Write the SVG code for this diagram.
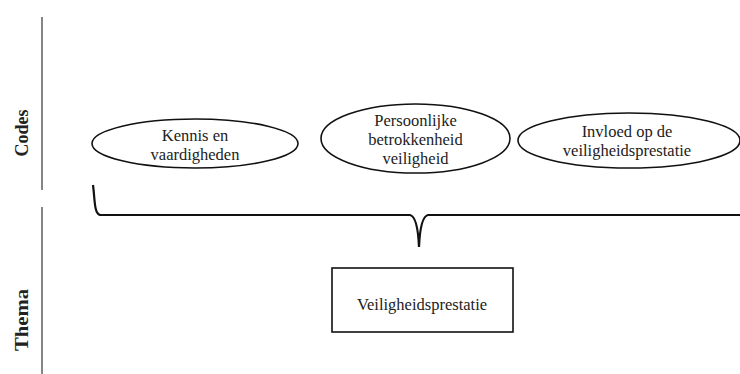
<svg xmlns="http://www.w3.org/2000/svg" width="740" height="374" viewBox="0 0 740 374">
<style>
.t{font-family:"Liberation Serif","DejaVu Serif",serif;font-size:16.5px;fill:#222;text-anchor:middle}
.lab{font-family:"Liberation Serif","DejaVu Serif",serif;font-size:18px;font-weight:bold;fill:#222;text-anchor:middle}
.sh{fill:#fff;stroke:#111;stroke-width:1.6}
.ax{stroke:#444;stroke-width:1.3;fill:none}
</style>
<rect width="740" height="374" fill="#fff"/>
<g id="axis">
<line class="ax" x1="42" y1="17" x2="42" y2="190"/>
<line class="ax" x1="42" y1="207" x2="42" y2="374"/>
<text class="lab" transform="translate(28,133) rotate(-90)">Codes</text>
<text class="lab" transform="translate(28,320) rotate(-90)" textLength="62" lengthAdjust="spacingAndGlyphs">Thema</text>
</g>
<g id="node-kennis">
<ellipse class="sh" cx="195" cy="143.5" rx="103" ry="24.5"/>
<text class="t" x="195" y="141">Kennis en</text>
<text class="t" x="195" y="160">vaardigheden</text>
</g>
<g id="node-persoonlijke">
<ellipse class="sh" cx="415.5" cy="138.5" rx="94.5" ry="34.5"/>
<text class="t" x="415.5" y="126">Persoonlijke</text>
<text class="t" x="415.5" y="145">betrokkenheid</text>
<text class="t" x="415.5" y="164">veiligheid</text>
</g>
<g id="node-invloed">
<ellipse class="sh" cx="629" cy="140.5" rx="111" ry="27.5"/>
<text class="t" x="627" y="137">Invloed op de</text>
<text class="t" x="627" y="156">veiligheidsprestatie</text>
</g>
<g id="connectors">
<path d="M93,185 C95,200 94,213 100,215 L410,215 C415,216 418,225 419,247 C420,225 423,216 428,215 L740,215" fill="none" stroke="#111" stroke-width="2.2"/>
</g>
<g id="node-thema">
<rect class="sh" x="332" y="268" width="181" height="64"/>
<text class="t" x="422" y="310">Veiligheidsprestatie</text>
</g>
</svg>
